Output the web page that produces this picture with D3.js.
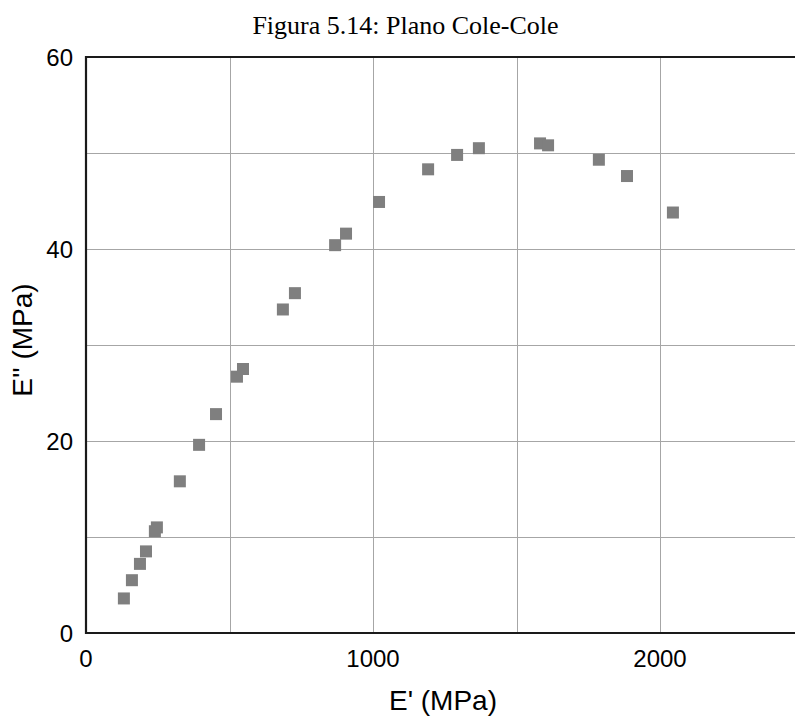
<!DOCTYPE html>
<html>
<head>
<meta charset="utf-8">
<script src="https://cdn.jsdelivr.net/npm/d3@7"></script>
<style>
  html, body { margin: 0; padding: 0; background: #fff; overflow: hidden; }
  svg { display: block; }
</style>
</head>
<body>
<svg id="chart" width="795" height="717"></svg>
<script>
// ---- Data ----
const ePrime = [132, 160, 188, 209, 240, 247, 327, 394, 453, 526, 547, 686, 728, 868, 906, 1021, 1192, 1293, 1369, 1582, 1610, 1787, 1885, 2045];
const eDouble = [3.6, 5.5, 7.2, 8.5, 10.6, 11.0, 15.8, 19.6, 22.8, 26.7, 27.5, 33.7, 35.4, 40.4, 41.6, 44.9, 48.3, 49.8, 50.5, 51.0, 50.8, 49.3, 47.6, 43.8];
const xTicks = [0, 1000, 2000];
const xGrid = [500, 1000, 1500, 2000];
const yTicks = [0, 20, 40, 60];
const yGrid = [10, 20, 30, 40, 50];
const titleText = "Figura 5.14: Plano Cole-Cole";
const xLabel = "E' (MPa)";
const yLabel = "E'' (MPa)";

const svg = d3.select("#chart");
const x = d3.scaleLinear().domain([0, 2500]).range([86, 803.5]);
const y = d3.scaleLinear().domain([0, 60]).range([633, 57]);

const sans = "'Liberation Sans', Arial, sans-serif";

// Title
svg.append("text")
  .attr("x", 405.5).attr("y", 34)
  .attr("text-anchor", "middle")
  .style("font-family", "'Liberation Serif', 'Times New Roman', serif")
  .style("font-size", "26px")
  .attr("fill", "#000")
  .text(titleText);

// Grid
svg.append("g").selectAll("line").data(xGrid).join("line")
  .attr("x1", d => Math.round(x(d)) + 0.5).attr("x2", d => Math.round(x(d)) + 0.5)
  .attr("y1", y(60)).attr("y2", y(0))
  .attr("stroke", "#a6a6a6").attr("stroke-width", 1);
svg.append("g").selectAll("line").data(yGrid).join("line")
  .attr("x1", x(0)).attr("x2", 795)
  .attr("y1", d => Math.round(y(d)) + 0.5).attr("y2", d => Math.round(y(d)) + 0.5)
  .attr("stroke", "#a6a6a6").attr("stroke-width", 1);

// Axes lines (left, bottom, top)
const axisColor = "#1a1a1a";
svg.append("line").attr("x1", x(0)).attr("x2", x(0)).attr("y1", y(60) - 1).attr("y2", y(0) + 1)
  .attr("stroke", axisColor).attr("stroke-width", 2.2);
svg.append("line").attr("x1", x(0) - 1).attr("x2", 795).attr("y1", y(0)).attr("y2", y(0))
  .attr("stroke", axisColor).attr("stroke-width", 2.2);
svg.append("line").attr("x1", x(0) - 1).attr("x2", 795).attr("y1", y(60)).attr("y2", y(60))
  .attr("stroke", axisColor).attr("stroke-width", 2.2);

// Tick labels
svg.append("g").selectAll("text").data(xTicks).join("text")
  .attr("x", d => x(d)).attr("y", 667)
  .attr("text-anchor", "middle")
  .style("font-family", sans).style("font-size", "24px")
  .text(d => d);
svg.append("g").selectAll("text").data(yTicks).join("text")
  .attr("x", 73).attr("y", d => y(d) + 8.5)
  .attr("text-anchor", "end")
  .style("font-family", sans).style("font-size", "24px")
  .text(d => d);

// Axis titles
svg.append("text")
  .attr("x", 443).attr("y", 710)
  .attr("text-anchor", "middle")
  .style("font-family", sans).style("font-size", "28px")
  .text(xLabel);
svg.append("text")
  .attr("transform", "translate(32,340) rotate(-90)")
  .attr("text-anchor", "middle")
  .style("font-family", sans).style("font-size", "28px")
  .text(yLabel);

// Markers
const data = ePrime.map((v, i) => ({ x: v, y: eDouble[i] }));
const s = 12;
svg.append("g").selectAll("rect").data(data).join("rect")
  .attr("x", d => x(d.x) - s / 2).attr("y", d => y(d.y) - s / 2)
  .attr("width", s).attr("height", s)
  .attr("fill", "#7f7f7f");
</script>
</body>
</html>
